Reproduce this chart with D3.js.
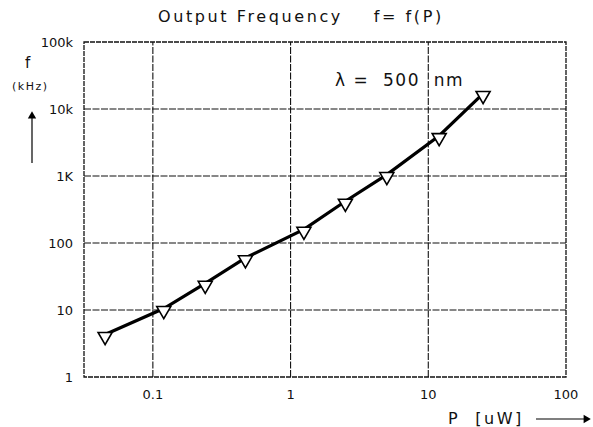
<!DOCTYPE html>
<html lang="en">
<head>
<meta charset="UTF-8">
<title>Output Frequency f = f(P)</title>
<script src="https://d3js.org/d3.v7.min.js"></script>
<style>
    body { margin: 0; background: #fff; }
    text { font-family: "DejaVu Sans", sans-serif; fill: #111; }
    .grid line { stroke: #111; stroke-width: 1.1; stroke-dasharray: 7,1.5; }
    .frame { fill: none; stroke: #111; stroke-width: 1.3; stroke-dasharray: 5,1; }
    .curve { fill: none; stroke: #000; stroke-width: 3.2; }
    .marker { fill: #fff; stroke: #000; stroke-width: 1.6; }
</style>
</head>
<body>
<div id="chart"></div>
<script>
    // values
    const power = [0.045, 0.12, 0.24, 0.47, 1.25, 2.5, 5, 12, 25];        // P [uW]
    const freq  = [4.3, 10.5, 25, 60, 160, 420, 1050, 4000, 17000];        // f [kHz]
    const xTicks = [0.1, 1, 10, 100];
    const xTickLabels = ["0.1", "1", "10", "100"];
    const yTicks = [1, 10, 100, 1000, 10000, 100000];
    const yTickLabels = ["1", "10", "100", "1K", "10k", "100k"];

    const width = 593, height = 427;
    const margin = {left: 84, right: 27, top: 42, bottom: 50};

    const svg = d3.select("#chart").append("svg")
        .attr("width", width)
        .attr("height", height);

    const x = d3.scaleLog()
        .domain([Math.pow(10, -1.5), 100])
        .range([margin.left, width - margin.right]);
    const y = d3.scaleLog()
        .domain([1, 100000])
        .range([height - margin.bottom, margin.top]);

    // grid
    const grid = svg.append("g").attr("class", "grid");
    grid.selectAll(".vx")
        .data(xTicks.slice(0, -1))
        .enter().append("line")
        .attr("x1", d => x(d)).attr("x2", d => x(d))
        .attr("y1", y(1)).attr("y2", y(100000));
    grid.selectAll(".hy")
        .data(yTicks.slice(1, -1))
        .enter().append("line")
        .attr("x1", x.range()[0]).attr("x2", x.range()[1])
        .attr("y1", d => y(d)).attr("y2", d => y(d));

    svg.append("rect")
        .attr("class", "frame")
        .attr("x", x.range()[0])
        .attr("y", y.range()[1])
        .attr("width", x.range()[1] - x.range()[0])
        .attr("height", y.range()[0] - y.range()[1]);

    // tick labels
    svg.selectAll(".xlab")
        .data(xTicks)
        .enter().append("text")
        .attr("x", d => x(d))
        .attr("y", 399)
        .attr("text-anchor", "middle")
        .attr("font-size", 13)
        .text((d, i) => xTickLabels[i]);

    svg.selectAll(".ylab")
        .data(yTicks)
        .enter().append("text")
        .attr("x", 73)
        .attr("y", d => y(d) + 5)
        .attr("text-anchor", "end")
        .attr("font-size", 13)
        .text((d, i) => yTickLabels[i]);

    // curve
    const pts = power.map((p, i) => [p, freq[i]]);
    const line = d3.line()
        .x(d => x(d[0]))
        .y(d => y(d[1]));
    svg.append("path")
        .datum(pts)
        .attr("class", "curve")
        .attr("d", line);

    const tri = d3.symbol().type(d3.symbolTriangle).size(85);
    svg.selectAll(".marker")
        .data(pts)
        .enter().append("path")
        .attr("class", "marker")
        .attr("d", tri)
        .attr("transform", d => "translate(" + x(d[0]) + "," + (y(d[1]) + 2) + ") rotate(180)");

    // titles
    svg.append("text")
        .attr("x", 158).attr("y", 22)
        .attr("font-size", 16)
        .attr("letter-spacing", 2.6)
        .attr("xml:space", "preserve")
        .text("Output Frequency    f= f(P)");

    svg.append("text")
        .attr("x", 335).attr("y", 86)
        .attr("font-size", 17)
        .attr("letter-spacing", 1.5)
        .attr("xml:space", "preserve")
        .text("\u03bb =  500  nm");

    svg.append("text")
        .attr("x", 25).attr("y", 68)
        .attr("font-size", 15)
        .text("f");
    svg.append("text")
        .attr("x", 12).attr("y", 90)
        .attr("font-size", 11)
        .attr("letter-spacing", 1.5)
        .text("(kHz)");

    svg.append("text")
        .attr("x", 448).attr("y", 424)
        .attr("font-size", 16)
        .attr("letter-spacing", 2.5)
        .attr("xml:space", "preserve")
        .text("P  [uW]");

    // arrows
    svg.append("line")
        .attr("x1", 32).attr("x2", 32)
        .attr("y1", 163).attr("y2", 116)
        .attr("stroke", "#000").attr("stroke-width", 1.2);
    svg.append("path")
        .attr("d", d3.symbol().type(d3.symbolTriangle).size(30))
        .attr("transform", "translate(32,116)")
        .attr("fill", "#000");

    svg.append("line")
        .attr("x1", 536).attr("x2", 584)
        .attr("y1", 419).attr("y2", 419)
        .attr("stroke", "#000").attr("stroke-width", 1.2);
    svg.append("path")
        .attr("d", d3.symbol().type(d3.symbolTriangle).size(30))
        .attr("transform", "translate(586,419) rotate(90)")
        .attr("fill", "#000");
</script>
</body>
</html>
